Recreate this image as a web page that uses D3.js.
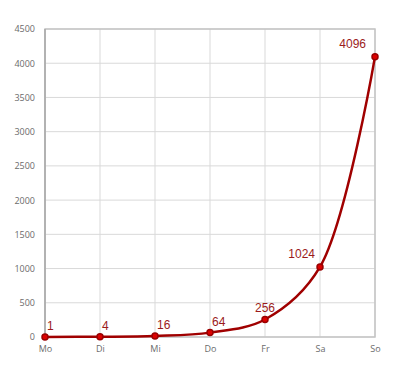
<!DOCTYPE html>
<html>
<head>
<meta charset="utf-8">
<script src="https://cdn.jsdelivr.net/npm/d3@7"></script>
<style>
body { margin: 0; background: #fff; }
svg { display: block; }
</style>
</head>
<body>
<svg width="400" height="372"></svg>
<script>
// days of week (german)
var days = ['Mo', 'Di', 'Mi', 'Do', 'Fr', 'Sa', 'So'];
var values = [1, 4, 16, 64, 256, 1024, 4096];
var yTicks = [0, 500, 1000, 1500, 2000, 2500, 3000, 3500, 4000, 4500];

var svg = d3.select('svg');
// note: "top" is taken by window.top, so plot edges get own names
var plotL = 45, plotR = 375, plotT = 29, plotB = 337;

var x = d3.scalePoint().domain(days).range([plotL, plotR]).padding(0);
var y = d3.scaleLinear().domain([0, 4500]).range([plotB, plotT]);

//gridlines
svg.append('g').selectAll('line')
	.data(yTicks)
	.enter()
	.append('line')
	.attr('x1', plotL).attr('x2', plotR)
	.attr('y1', function(d){return y(d)})
	.attr('y2', function(d){return y(d)})
	.style('stroke', '#d9d9d9')
	.style('stroke-width', 1);

svg.append('g').selectAll('line')
	.data(days)
	.enter()
	.append('line')
	.attr('y1', plotT).attr('y2', plotB)
	.attr('x1', function(d){return x(d)})
	.attr('x2', function(d){return x(d)})
	.style('stroke', '#d9d9d9')
	.style('stroke-width', 1);

// frame
svg.append('rect')
	.attr('x', plotL).attr('y', plotT)
	.attr('width', plotR - plotL).attr('height', plotB - plotT)
	.style('fill', 'none')
	.style('stroke', '#c4c4c4')
	.style('stroke-width', 1.5);
svg.append('line')
	.attr('x1', plotL).attr('x2', plotL).attr('y1', plotT).attr('y2', plotB)
	.style('stroke', '#a8a8a8').style('stroke-width', 1.5);

// axes text
var yAxis = d3.axisLeft(y).tickValues(yTicks).tickSize(0).tickPadding(10).tickFormat(d3.format('d'));
svg.append('g')
	.attr('transform', 'translate(' + plotL + ',0)')
	.call(yAxis)
	.call(function(g){ g.select('.domain').remove(); })
	.selectAll('text')
	.style('font-family', '"Open Sans", sans-serif')
	.style('font-size', '9px')
	.style('fill', '#6b6b6b');

var xAxis = d3.axisBottom(x).tickSize(0).tickPadding(9);
svg.append('g')
	.attr('transform', 'translate(0,' + plotB + ')')
	.call(xAxis)
	.call(function(g){ g.select('.domain').remove(); })
	.selectAll('text')
	.style('font-family', '"Open Sans", sans-serif')
	.style('font-size', '9px')
	.style('fill', '#6b6b6b');

// the line
var line = d3.line()
	.x(function(d, i){return x(days[i])})
	.y(function(d){return y(d)})
	.curve(d3.curveCatmullRom.alpha(0.5));

svg.append('path')
	.datum(values)
	.attr('d', line)
	.style('fill', 'none')
	.style('stroke', '#a00000')
	.style('stroke-width', 2.5);

svg.selectAll('circle')
	.data(values)
	.enter()
	.append('circle')
	.attr('cx', function(d, i){return x(days[i])})
	.attr('cy', function(d){return y(d)})
	.attr('r', 3)
	.style('fill', '#dd0000')
	.style('stroke', '#9a0000')
	.style('stroke-width', 1.5);

// labels
svg.selectAll('text.lbl')
	.data(values)
	.enter()
	.append('text')
	.attr('class', 'lbl')
	.attr('x', function(d, i){
		var dx = i < 4 ? 2 : (i == 4 ? 0 : (i == 5 ? -5 : -9));
		return x(days[i]) + dx;
	})
	.attr('y', function(d, i){return y(d) + (i < 5 ? -7 : -9)})
	.attr('text-anchor', function(d, i){return i < 4 ? 'start' : (i == 4 ? 'middle' : 'end')})
	.text(function(d){return d})
	.style('font-family', '"Liberation Sans", Arial, sans-serif')
	.style('font-size', '12px')
	.style('fill', '#9b1b1b');
</script>
</body>
</html>
